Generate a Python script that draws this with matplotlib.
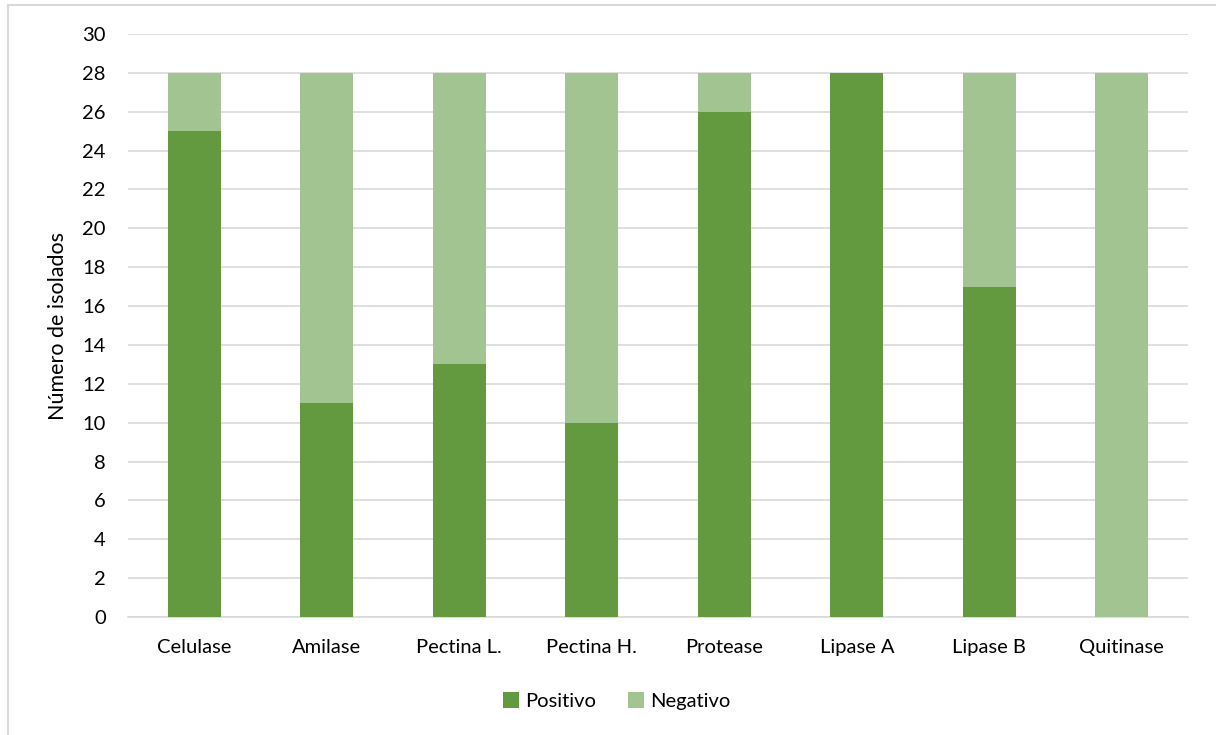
import matplotlib
matplotlib.use("Agg")
import matplotlib.pyplot as plt
from matplotlib.patches import Rectangle
import numpy as np

categories = ["Celulase", "Amilase", "Pectina L.", "Pectina H.",
              "Protease", "Lipase A", "Lipase B", "Quitinase"]
positivo = [25, 11, 13, 10, 26, 28, 17, 0]
negativo = [3, 17, 15, 18, 2, 0, 11, 28]

dark_green = "#639A3F"
light_green = "#A2C490"
grid_gray = "#D9D9D9"

plt.rcParams["font.family"] = ["Lato", "DejaVu Sans"]

fig = plt.figure(figsize=(12.16, 7.35), dpi=100)
ax = fig.add_axes([0.1053, 0.1605, 0.8717, 0.7932])

x = np.arange(len(categories))
ax.bar(x, positivo, width=0.4, color=dark_green, label="Positivo", zorder=3)
ax.bar(x, negativo, width=0.4, bottom=positivo, color=light_green,
       label="Negativo", zorder=3)

ax.set_xlim(-0.5, len(categories) - 0.5)
ax.set_ylim(0, 30)
ax.set_yticks(range(0, 31, 2))
ax.set_xticks(x)
ax.set_xticklabels(categories)
ax.tick_params(axis="both", length=0, labelsize=14.5, colors="#000000")
ax.tick_params(axis="x", pad=16)
ax.tick_params(axis="y", pad=16)
ax.yaxis.grid(True, color=grid_gray, linewidth=1.2, zorder=0)
for side in ["top", "right", "left"]:
    ax.spines[side].set_visible(False)
ax.spines["bottom"].set_color(grid_gray)
ax.spines["bottom"].set_linewidth(1.2)
ax.set_ylabel("Número de isolados", fontsize=15.5, labelpad=10)

# legend is centred on the whole chart area, not the plot area
fig.legend(*ax.get_legend_handles_labels(), loc="upper center",
           bbox_to_anchor=(0.507, 0.0826), ncol=2,
           frameon=False, fontsize=14.5, handlelength=0.8, handleheight=0.8,
           handletextpad=0.3, columnspacing=1.6)

# outer chart frame
fig.patches.append(Rectangle((8 / 1216, -0.1), 1.2, 1.1 - 5 / 735,
                             transform=fig.transFigure, fill=False,
                             edgecolor=grid_gray, linewidth=1.5))

fig.savefig("out.png", dpi=100)
